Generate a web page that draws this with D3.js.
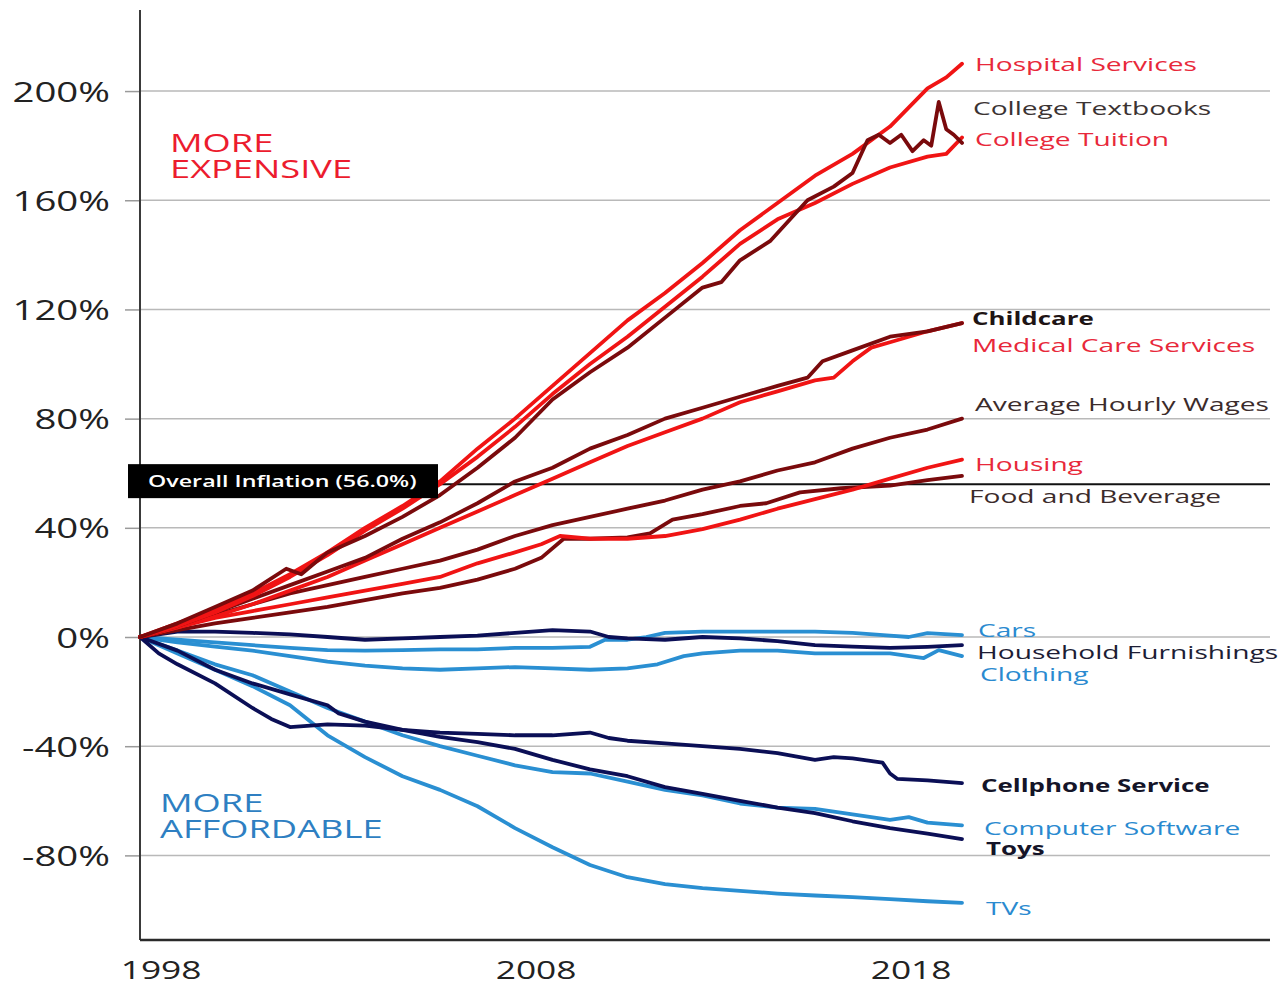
<!DOCTYPE html>
<html><head><meta charset="utf-8">
<script src="https://cdn.jsdelivr.net/npm/d3@7/dist/d3.min.js"></script>
<style>html,body{margin:0;padding:0;background:#fff;}svg{display:block;}</style>
</head><body>
<svg id="c" width="1278" height="987"></svg>
<script>
// ---------- DATA (decimal year, % change since Jan 1998) ----------
const yTicks = [-80, -40, 0, 40, 80, 120, 160, 200];
const xTickYears = [1998, 2008, 2018];
const overallInflation = 56.0;

const hospitalServices = [[1998,0],[1999,5],[2000,10],[2001,16],[2002,23],[2003,31],[2004,40],[2005,48],[2006,57],[2007,69],[2008,80],[2009,92],[2010,104],[2011,116],[2012,126],[2013,137],[2014,149],[2015,159],[2016,169],[2017,177],[2018,187],[2019,201],[2019.5,205],[2019.92,210]];
const collegeTextbooks = [[1998,0],[1999,5],[2000,11],[2001,17],[2001.9,25],[2002.3,23],[2003,31],[2004,37],[2005,44],[2006,52],[2007,62],[2008,73],[2009,87],[2010,97],[2011,106],[2012,117],[2013,128],[2013.5,130],[2014,138],[2014.8,145],[2015.8,160],[2016.5,165],[2017,170],[2017.4,182],[2017.7,184],[2018,181],[2018.3,184],[2018.6,178],[2018.9,182],[2019.1,180],[2019.3,196],[2019.5,186],[2019.7,184],[2019.92,181]];
const collegeTuition = [[1998,0],[1999,4],[2000,9],[2001,15],[2002,22],[2003,30],[2004,39],[2005,47],[2006,56],[2007,66],[2008,77],[2009,89],[2010,100],[2011,110],[2012,121],[2013,132],[2014,144],[2015,153],[2016,159],[2017,166],[2018,172],[2019,176],[2019.5,177],[2019.92,183]];
const childcare = [[1998,0],[1999,4],[2000,9],[2001,14],[2002,19],[2003,24],[2004,29],[2005,36],[2006,42],[2007,49],[2008,57],[2009,62],[2010,69],[2011,74],[2012,80],[2013,84],[2014,88],[2015,92],[2015.8,95],[2016.2,101],[2017,105],[2018,110],[2019,112],[2019.92,115]];
const medicalCare = [[1998,0],[1999,3.5],[2000,7.5],[2001,12],[2002,17],[2003,22],[2004,28],[2005,34],[2006,40],[2007,46],[2008,52],[2009,58],[2010,64],[2011,70],[2012,75],[2013,80],[2014,86],[2015,90],[2016,94],[2016.5,95],[2017,101],[2017.5,106],[2018,108],[2019,112],[2019.92,115]];
const hourlyWages = [[1998,0],[1999,4],[2000,8],[2001,12],[2002,16],[2003,19],[2004,22],[2005,25],[2006,28],[2007,32],[2008,37],[2009,41],[2010,44],[2011,47],[2012,50],[2013,54],[2014,57],[2015,61],[2016,64],[2017,69],[2018,73],[2019,76],[2019.92,80]];
const housing = [[1998,0],[1999,3.5],[2000,7],[2001,9.5],[2002,12],[2003,14.5],[2004,17],[2005,19.5],[2006,22],[2007,27],[2008,31],[2008.7,34],[2009.2,37],[2010,36],[2011,36],[2012,37],[2013,39.5],[2014,43],[2015,47],[2016,50.5],[2017,54],[2018,58],[2019,62],[2019.92,65]];
const foodBeverage = [[1998,0],[1999,2.5],[2000,5],[2001,7],[2002,9],[2003,11],[2004,13.5],[2005,16],[2006,18],[2007,21],[2008,25],[2008.7,29],[2009.3,36],[2010,36],[2011,36.5],[2011.6,38],[2012.2,43],[2013,45],[2014,48],[2014.7,49],[2015.6,53],[2016.7,54.5],[2018,55.5],[2019,57.5],[2019.92,59]];
const cars = [[1998,0],[1999,-1],[2000,-2],[2001,-3],[2002,-4],[2003,-4.8],[2004,-5],[2005,-4.8],[2006,-4.5],[2007,-4.5],[2008,-4],[2009,-4],[2010,-3.6],[2010.4,-1],[2011,-1],[2011.5,0],[2012,1.5],[2013,2],[2014,2],[2015,2],[2016,2],[2017,1.5],[2018,0.5],[2018.5,0],[2019,1.4],[2019.92,0.7]];
const householdFurnishings = [[1998,0],[1999,2],[2000,2],[2001,1.5],[2002,1],[2003,0],[2004,-1],[2005,-0.5],[2006,0],[2007,0.5],[2008,1.5],[2009,2.5],[2010,2],[2010.5,0],[2011,-0.5],[2012,-1],[2013,0],[2014,-0.5],[2015,-1.5],[2016,-3],[2017,-3.5],[2018,-4],[2019,-3.6],[2019.92,-3]];
const clothing = [[1998,0],[1999,-2],[2000,-3.5],[2001,-5],[2002,-7],[2003,-9],[2004,-10.5],[2005,-11.5],[2006,-12],[2007,-11.5],[2008,-11],[2009,-11.5],[2010,-12],[2011,-11.5],[2011.8,-10],[2012.5,-7],[2013,-6],[2014,-5],[2015,-5],[2016,-6],[2017,-6],[2018,-6],[2018.9,-7.7],[2019.3,-4.8],[2019.92,-7]];
const cellphoneService = [[1998,0],[1998.5,-6],[1999,-10],[2000,-17],[2001,-26],[2001.5,-30],[2002,-33],[2003,-32],[2004,-32.5],[2005,-34],[2006,-35],[2007,-35.5],[2008,-36],[2009,-36],[2010,-35],[2010.5,-37],[2011,-38],[2012,-39],[2013,-40],[2014,-41],[2015,-42.5],[2016,-45],[2016.5,-44],[2017,-44.5],[2017.8,-46],[2018,-50],[2018.2,-52],[2019,-52.5],[2019.92,-53.5]];
const computerSoftware = [[1998,0],[1999,-5],[2000,-10],[2001,-14],[2002,-20],[2003,-26],[2004,-31],[2005,-36],[2006,-40],[2007,-43.5],[2008,-47],[2009,-49.5],[2010,-50],[2011,-53],[2012,-56],[2013,-58],[2014,-61],[2015,-62.5],[2016,-63],[2017,-65],[2018,-67],[2018.5,-66],[2019,-68],[2019.92,-69]];
const toys = [[1998,0],[1999,-5],[2000,-12],[2001,-17],[2002,-21],[2003,-25],[2003.3,-28],[2004,-31],[2005,-34],[2006,-36.6],[2007,-38.5],[2008,-41],[2009,-45],[2010,-48.5],[2011,-51],[2012,-55],[2013,-57.5],[2014,-60],[2015,-62.5],[2016,-64.5],[2017,-67.5],[2018,-70],[2019,-72],[2019.92,-74]];
const tvs = [[1998,0],[1999,-6],[2000,-12],[2001,-18],[2002,-25],[2003,-36],[2004,-44],[2005,-51],[2006,-56],[2007,-62],[2008,-70],[2009,-77],[2010,-83.5],[2011,-88],[2012,-90.5],[2013,-92],[2014,-93],[2015,-94],[2016,-94.7],[2017,-95.3],[2018,-96],[2019,-96.8],[2019.92,-97.4]];

// ---------- STYLE ----------
const RED = "#f01414", DRED = "#7a0a0c", NAVY = "#0b0f56", LBLUE = "#2a8fd2";
const series = [
  {name:"Cars", data:cars, color:LBLUE, txt:"#2a8ad0", dy:-5, dx:16},
  {name:"Clothing", data:clothing, color:LBLUE, txt:"#2a8ad0", dy:18, dx:18},
  {name:"Household Furnishings", data:householdFurnishings, color:NAVY, txt:"#1d1d35", dy:7, dx:15},
  {name:"TVs", data:tvs, color:LBLUE, txt:"#2a8ad0", dy:5, dx:24},
  {name:"Computer Software", data:computerSoftware, color:LBLUE, txt:"#2a8ad0", dy:3, dx:22},
  {name:"Toys", data:toys, color:NAVY, txt:"#141428", dy:9, dx:24, bold:true},
  {name:"Cellphone Service", data:cellphoneService, color:NAVY, txt:"#141428", dy:2, dx:19, bold:true},
  {name:"Food and Beverage", data:foodBeverage, color:DRED, txt:"#3b2b2b", dy:20, dx:7},
  {name:"Housing", data:housing, color:RED, txt:"#e8283a", dy:4},
  {name:"Average Hourly Wages", data:hourlyWages, color:DRED, txt:"#3b2b2b", dy:-15},
  {name:"Medical Care Services", data:medicalCare, color:RED, txt:"#e8283a", dy:22, dx:10},
  {name:"Childcare", data:childcare, color:DRED, txt:"#1e1414", dy:-5, dx:10, bold:true},
  {name:"College Tuition", data:collegeTuition, color:RED, txt:"#e8283a", dy:2},
  {name:"Hospital Services", data:hospitalServices, color:RED, txt:"#e8283a", dy:0},
  {name:"College Textbooks", data:collegeTextbooks, color:DRED, txt:"#3b3333", dy:-35, dx:11},
];

const FONT = "'Open Sans', 'Noto Sans', sans-serif";

const svg = d3.select("#c");
const x = d3.scaleLinear().domain([1998, 2019.92]).range([140, 962]);
const y = d3.scaleLinear().domain([-111, 229.7]).range([940, 10]);
const plotRight = 1270;

function txt(g, px, py, s, o) {
  return g.append("text")
    .attr("transform", `translate(${px},${py}) scale(${o.sx || 1.45},1)`)
    .attr("text-anchor", o.anchor || "start")
    .attr("font-family", FONT)
    .attr("font-size", o.size)
    .attr("font-weight", o.weight || 400)
    .attr("fill", o.fill)
    .text(s);
}

// gridlines
const grid = svg.append("g");
grid.selectAll("line").data(yTicks).join("line")
  .attr("x1", 140).attr("x2", plotRight)
  .attr("y1", d => y(d)).attr("y2", d => y(d))
  .attr("stroke", "#b9b9b9").attr("stroke-width", 1.5);

// y axis
const yAxis = d3.axisLeft(y).tickValues(yTicks).tickSize(15).tickFormat(d => d + "%");
const ya = svg.append("g").attr("transform", "translate(140,0)").call(yAxis);
ya.select(".domain").remove();
ya.selectAll(".tick line").attr("stroke", "#9a9a9a").attr("stroke-width", 1.5);
ya.selectAll(".tick text").remove();
ya.selectAll(".tick").each(function(d) {
  txt(d3.select(this), -30, 10, d + "%", {size: 28, fill: "#222", anchor: "end", sx: 1.37});
});
svg.append("line").attr("x1", 140).attr("x2", 140).attr("y1", y.range()[1]).attr("y2", y.range()[0])
  .attr("stroke", "#3a3a3a").attr("stroke-width", 2);

// x axis
const xAxis = d3.axisBottom(x).tickValues(xTickYears.map(v => v + 0.55)).tickSize(0).tickFormat(() => "");
const xa = svg.append("g").attr("transform", `translate(0,${y(-111)})`).call(xAxis);
xa.select(".domain").remove();
xa.selectAll(".tick").each(function(d, i) {
  txt(d3.select(this), 0, 39, String(xTickYears[i]), {size: 26, fill: "#222", anchor: "middle", sx: 1.36});
});
svg.append("line").attr("x1", 140).attr("x2", plotRight).attr("y1", y(-111)).attr("y2", y(-111))
  .attr("stroke", "#2a2a2a").attr("stroke-width", 2.5);

// overall inflation
svg.append("line").attr("x1", 128).attr("x2", plotRight)
  .attr("y1", y(overallInflation)).attr("y2", y(overallInflation))
  .attr("stroke", "#111").attr("stroke-width", 2);

// series lines
const line = d3.line().x(d => x(d[0])).y(d => y(d[1]));
const lg = svg.append("g").attr("fill", "none").attr("stroke-linejoin", "round").attr("stroke-linecap", "round");
series.forEach(s => {
  lg.append("path").datum(s.data).attr("d", line)
    .attr("stroke", s.color).attr("stroke-width", 3.8);
});

// inflation label box (drawn on top of lines)
svg.append("rect").attr("x", 128).attr("y", y(overallInflation) - 20).attr("width", 310).attr("height", 34).attr("fill", "#000");
txt(svg, 148, y(overallInflation) + 3, `Overall Inflation (${overallInflation.toFixed(1)}%)`, {size: 15.5, fill: "#fff", weight: 600, sx: 1.5});

// end labels
series.forEach(s => {
  const last = s.data[s.data.length - 1];
  txt(svg, x(last[0]) + (s.dx || 13), y(last[1]) + (s.dy || 0) + 7, s.name,
      {size: 18.5, fill: s.txt, weight: s.bold ? 700 : 400, sx: s.bold ? 1.4 : 1.52});
});

// region annotations
txt(svg, 170, 152, "MORE", {size: 25, fill: "#ec1c2e", sx: 1.45});
txt(svg, 170, 178, "EXPENSIVE", {size: 25, fill: "#ec1c2e", sx: 1.45});
txt(svg, 160, 812, "MORE", {size: 25, fill: "#2e7fc2", sx: 1.45});
txt(svg, 160, 838, "AFFORDABLE", {size: 25, fill: "#2e7fc2", sx: 1.45});
</script>
</body></html>
